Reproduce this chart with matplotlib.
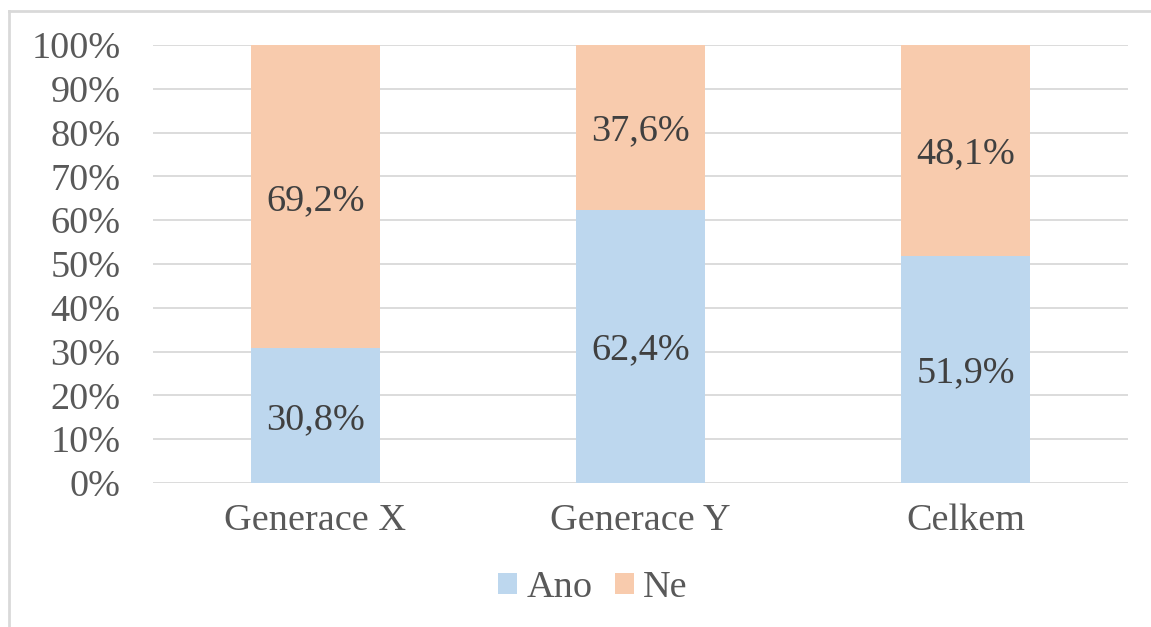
import matplotlib
matplotlib.use("Agg")
import matplotlib.pyplot as plt
from matplotlib.lines import Line2D

categories = ["Generace X", "Generace Y", "Celkem"]
ano = [30.8, 62.4, 51.9]
ne = [69.2, 37.6, 48.1]
series_names = ["Ano", "Ne"]
y_ticks = [0, 10, 20, 30, 40, 50, 60, 70, 80, 90, 100]

blue = "#BDD7EE"
orange = "#F8CBAD"
tick_color = "#595959"
label_color = "#404040"
fs = 27.5

plt.rcParams["font.family"] = ["Liberation Serif", "DejaVu Serif"]

fig = plt.figure(figsize=(11.51, 6.27), dpi=100)
ax = fig.add_axes([153 / 1151, 1 - 483 / 627, (1128 - 153) / 1151, (483 - 45) / 627])

x = list(range(len(categories)))
width = 0.397
b1 = ax.bar(x, ano, width, color=blue, label=series_names[0], zorder=2)
b2 = ax.bar(x, ne, width, bottom=ano, color=orange, label=series_names[1], zorder=2)

fmt = lambda v: f"{v:.1f}%".replace(".", ",")
for xi, a, n in zip(x, ano, ne):
    ax.text(xi, a / 2, fmt(a), ha="center", va="center_baseline", fontsize=fs,
            color=label_color, zorder=3)
    ax.text(xi, a + n / 2, fmt(n), ha="center", va="center_baseline", fontsize=fs,
            color=label_color, zorder=3)

ax.set_xlim(-0.5, len(categories) - 0.5)
ax.set_ylim(0, 100)
ax.set_yticks(y_ticks)
ax.set_yticklabels([f"{t}%" for t in y_ticks])
ax.set_xticks(x)
ax.set_xticklabels(categories)
ax.tick_params(axis="both", length=0, labelsize=fs, colors=tick_color)
ax.tick_params(axis="y", pad=23.5)
ax.tick_params(axis="x", pad=15)
ax.grid(axis="y", color="#D9D9D9", linewidth=1.3, zorder=0)
for s in ax.spines.values():
    s.set_visible(False)

leg = fig.legend(handles=[b1, b2], labels=series_names, loc="center",
                 bbox_to_anchor=(593 / 1151, 1 - 588 / 627), ncol=2,
                 frameon=False, fontsize=fs, handlelength=0.48,
                 handleheight=0.48, handletextpad=0.25, columnspacing=0.6)
for t in leg.get_texts():
    t.set_color(tick_color)

# outer chart border (top and left edges)
fig.add_artist(Line2D([9 / 1151, 1], [1 - 11 / 627, 1 - 11 / 627],
                      transform=fig.transFigure, color="#D9D9D9", linewidth=2))
fig.add_artist(Line2D([9 / 1151, 9 / 1151], [0, 1 - 11 / 627],
                      transform=fig.transFigure, color="#D9D9D9", linewidth=2))

fig.savefig("out.png", dpi=100)
